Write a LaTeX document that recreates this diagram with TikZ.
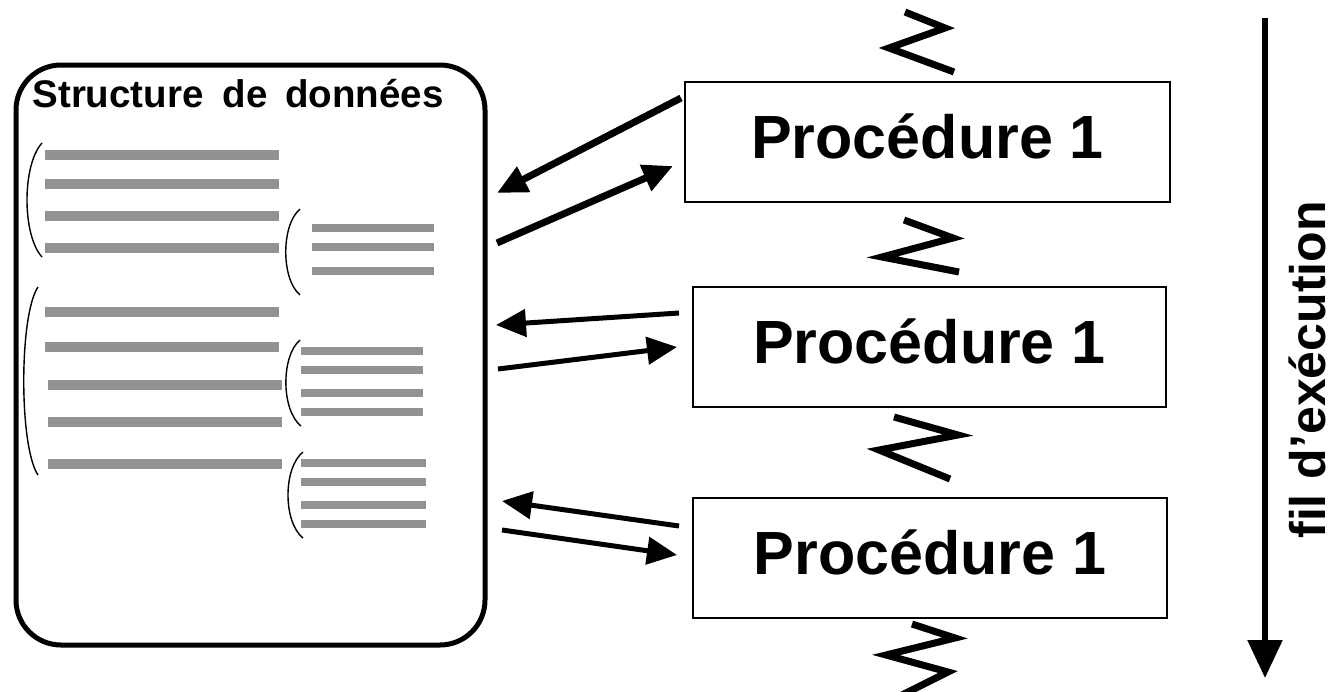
\documentclass[tikz,border=0pt]{standalone}
\usepackage{fontspec}
\setmainfont{Liberation Sans}
\usetikzlibrary{arrows.meta}
\definecolor{bargray}{RGB}{146,146,146}
\begin{document}
\begin{tikzpicture}[x=1pt,y=-1pt,
  dsbox/.style={draw, line width=5pt, rounded corners=45pt,
    minimum width=469pt, minimum height=580pt, inner sep=0pt},
  procbox/.style={draw, line width=2pt, inner sep=0pt, minimum height=120pt,
    font=\fontsize{61}{61}\selectfont\bfseries, text height=44pt, text depth=12pt},
  bigbar/.style={bargray, line width=10pt},
  smallbar/.style={bargray, line width=8pt},
  paren/.style={line width=1.4pt},
  zig/.style={line width=7pt, miter limit=10},
  callarrow/.style={line width=#1, -{Triangle[length=30pt,width=27pt]}},
  callarrow/.default=5pt
]
\useasboundingbox (0,0) rectangle (1336,691);

% data structure container
\node[dsbox] (ds) at (250.5,355) {};
\node[anchor=base, font=\fontsize{38.5}{38.5}\selectfont\bfseries] (title) at (238,107)
  {Structure\hspace{0.5em}de\hspace{0.45em}données};

% first block of fields
\foreach \y in {155,184,216,248} \draw[bigbar] (45,\y) -- (279,\y);
\draw[paren] (42,143) .. controls (22,165) and (22,235) .. (42,257);
% nested fields of the first block
\foreach \y in {228,247,271} \draw[smallbar] (312,\y) -- (434,\y);
\draw[paren] (300,209) .. controls (281,225) and (281,279) .. (300,295);

% second block of fields
\foreach \y in {312,347} \draw[bigbar] (45,\y) -- (279,\y);
\foreach \y in {385,422,464} \draw[bigbar] (48,\y) -- (282,\y);
\draw[paren] (38,287) .. controls (19,315) and (19,447) .. (38,475);
% nested fields of the second block
\foreach \y in {351,370,393,412} \draw[smallbar] (301,\y) -- (423,\y);
\draw[paren] (300,340) .. controls (281,356) and (281,410) .. (301,426);
\foreach \y in {463,482,505,524} \draw[smallbar] (301,\y) -- (426,\y);
\draw[paren] (303,452) .. controls (283,468) and (283,522) .. (303,538);

% procedures
\node[procbox, minimum width=485pt] (p1) at (927.5,142) {Procédure 1};
\node[procbox, minimum width=473pt] (p2) at (929.5,347) {Procédure 1};
\node[procbox, minimum width=474pt] (p3) at (930,558) {Procédure 1};

% break marks along the thread
\draw[zig] (905,12) -- (945,28) -- (889,48) -- (954,72);
\draw[zig] (904,220) -- (953,238) -- (882,257) -- (959,272);
\draw[zig] (894,417) -- (958,435) -- (879,450) -- (950,479);
\draw[zig] (912,624) -- (955,638) -- (886,655) -- (948,672) -- (898,697);

% accesses between procedures and data
\coordinate (r1a) at (681,98);  \coordinate (l1a) at (497,193);
\coordinate (l1b) at (497,243); \coordinate (r1b) at (673,166);
\coordinate (r2a) at (679,313); \coordinate (l2a) at (496,325);
\coordinate (l2b) at (498,369); \coordinate (r2b) at (677,347);
\coordinate (r3a) at (679,526); \coordinate (l3a) at (502,501);
\coordinate (l3b) at (502,530); \coordinate (r3b) at (677,555);
\draw[callarrow=7pt] (r1a) -- (l1a);
\draw[callarrow=7pt] (l1b) -- (r1b);
\draw[callarrow] (r2a) -- (l2a);
\draw[callarrow] (l2b) -- (r2b);
\draw[callarrow] (r3a) -- (l3a);
\draw[callarrow] (l3b) -- (r3b);

% execution thread
\coordinate (tstart) at (1265,18);
\coordinate (tend) at (1265,678);
\draw[line width=5.5pt, -{Triangle[length=38pt,width=34pt]}] (tstart) -- (tend);
\node[rotate=90, anchor=base, font=\fontsize{50}{50}\selectfont\bfseries] (thread) at (1325,370)
  {fil\hspace{0.3em}d’exécution};
\end{tikzpicture}
\end{document}
